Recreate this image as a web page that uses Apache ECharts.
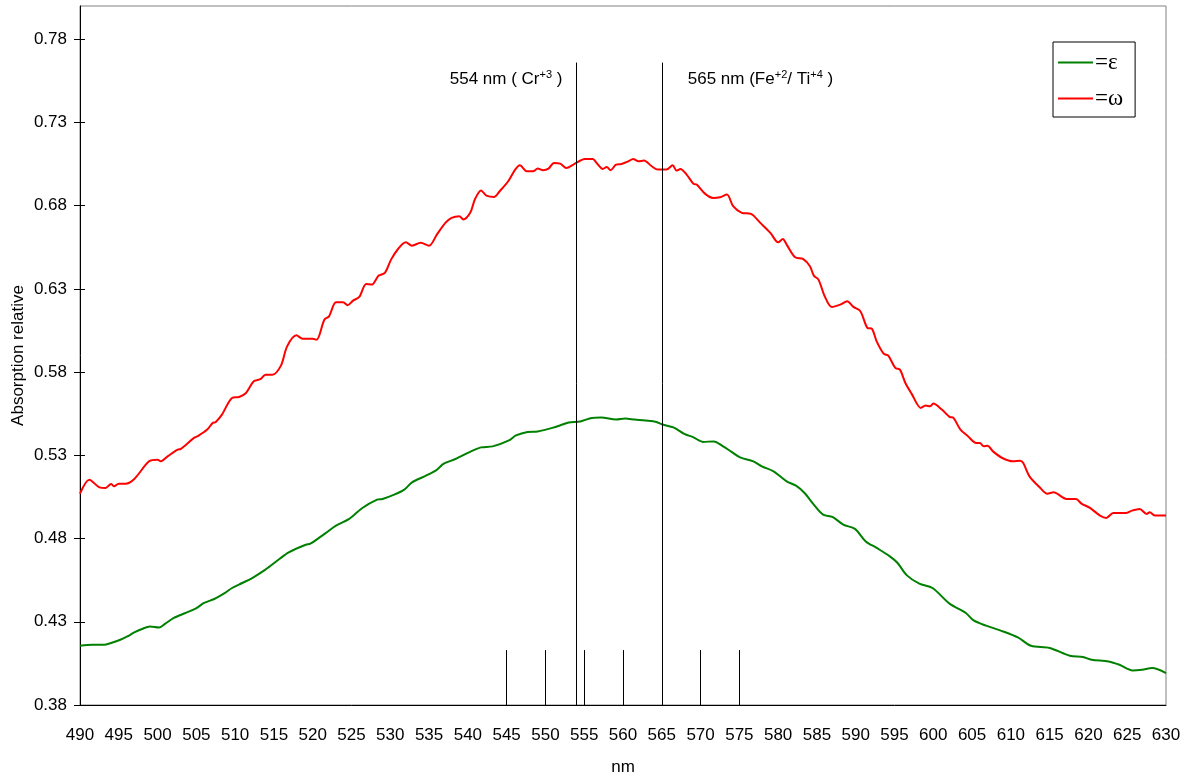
<!DOCTYPE html>
<html>
<head>
<meta charset="utf-8">
<script src="https://cdn.jsdelivr.net/npm/echarts@6/dist/echarts.min.js"></script>
<style>
  html, body { margin: 0; padding: 0; background: #fff; }
  #chart { width: 1192px; height: 780px; }
</style>
</head>
<body>
<div id="chart"></div>
<script>
// Tick labels
const xTicks = [490, 495, 500, 505, 510, 515, 520, 525, 530, 535, 540, 545, 550, 555, 560,
  565, 570, 575, 580, 585, 590, 595, 600, 605, 610, 615, 620, 625, 630];
const yTicks = [0.38, 0.43, 0.48, 0.53, 0.58, 0.63, 0.68, 0.73, 0.78];

// ε spectrum (green): wavelength (nm) and relative absorption
const epsNm = [490, 491.6, 493.1, 494.0, 495.2, 496.1, 497.0, 498.0, 499.0, 500.2, 501.0, 502.1,
  503.6, 504.9, 506.0, 507.3, 508.8, 509.6, 510.9, 512.2, 513.9, 515.7, 516.9, 519.1, 519.7,
  520.8, 521.7, 523.0, 524.7, 526.4, 528.3, 529.0, 530.5, 531.8, 532.8, 534.6, 535.9, 536.9,
  538.4, 540.4, 541.7, 543.2, 545.3, 546.2, 547.7, 549.0, 550.9, 552.2, 553.0, 554.5, 556.0,
  557.2, 559.1, 560.3, 561.5, 562.9, 564.3, 565.1, 566.5, 567.9, 569.1, 570.3, 571.7, 572.9,
  573.9, 575.1, 576.8, 577.9, 579.4, 581.1, 582.3, 583.4, 584.6, 585.8, 587.0, 588.4, 589.9,
  591.3, 592.7, 594.4, 595.4, 596.6, 598.2, 599.9, 602.1, 604.2, 605.2, 606.8, 608.7, 610.9,
  612.6, 615.0, 617.6, 619.3, 620.4, 622.6, 624.0, 625.7, 626.9, 628.2, 630];
const epsAbs = [0.4156, 0.4162, 0.4162, 0.4173, 0.4192, 0.4212, 0.4236, 0.4257, 0.4272, 0.4266,
  0.4289, 0.4323, 0.4353, 0.4379, 0.4413, 0.4437, 0.4477, 0.4503, 0.4533, 0.4563, 0.4613,
  0.4677, 0.4717, 0.4763, 0.4769, 0.4804, 0.4834, 0.4878, 0.4918, 0.4984, 0.5034, 0.5038,
  0.5064, 0.5094, 0.5138, 0.5178, 0.5210, 0.5250, 0.5278, 0.5324, 0.5348, 0.5354, 0.5390,
  0.5420, 0.5441, 0.5444, 0.5465, 0.5485, 0.5498, 0.5504, 0.5525, 0.5528, 0.5515, 0.5521,
  0.5515, 0.5509, 0.5501, 0.5485, 0.5468, 0.5429, 0.5408, 0.5381, 0.5384, 0.5354, 0.5324,
  0.5288, 0.5264, 0.5234, 0.5204, 0.5144, 0.5118, 0.5074, 0.5004, 0.4944, 0.4930, 0.4884,
  0.4858, 0.4783, 0.4744, 0.4693, 0.4653, 0.4579, 0.4529, 0.4503, 0.4409, 0.4353, 0.4308,
  0.4277, 0.4247, 0.4206, 0.4156, 0.4143, 0.4096, 0.4088, 0.4072, 0.4062, 0.4042, 0.4008,
  0.4012, 0.4022, 0.3992];

// ω spectrum (red): wavelength (nm) and relative absorption
const omeNm = [490, 491.2, 492.5, 493.3, 494.0, 494.4, 495.0, 495.9, 497.0, 498.9, 500.0, 500.4,
  501.3, 502.6, 503.0, 504.7, 505.3, 506.4, 507.1, 507.5, 508.3, 509.6, 510.5, 511.4, 512.4,
  513.3, 513.9, 514.8, 515.9, 516.7, 517.9, 518.7, 520.0, 520.5, 521.5, 522.1, 523.0, 523.9,
  524.5, 525.2, 526.0, 526.9, 527.6, 528.5, 529.3, 530.1, 531.0, 532.0, 532.8, 533.9, 535.0,
  536.0, 537.1, 537.9, 538.9, 539.4, 540.3, 540.9, 541.7, 542.4, 543.4, 544.1, 545.2, 546.1,
  546.7, 547.6, 548.4, 549.0, 549.7, 550.4, 551.1, 551.9, 552.7, 553.6, 555.1, 556.1, 556.6,
  557.4, 557.9, 558.4, 559.1, 559.8, 560.7, 561.3, 562.0, 562.7, 563.7, 564.5, 565.6, 566.4,
  566.9, 567.4, 568.2, 569.1, 569.5, 570.6, 571.6, 572.5, 573.4, 574.2, 575.3, 576.5, 577.7,
  579.0, 580.0, 580.6, 581.1, 582.2, 583.2, 584.1, 584.6, 585.2, 586.0, 586.9, 588.0, 588.9,
  589.7, 590.6, 591.5, 592.1, 592.7, 593.6, 594.2, 595.1, 595.7, 596.4, 597.2, 598.4, 599.0,
  599.6, 600.0, 601.1, 602.1, 602.6, 603.5, 604.5, 605.5, 606.0, 606.5, 607.0, 607.7, 608.9,
  610.3, 611.2, 611.6, 612.4, 613.8, 614.7, 615.5, 617.2, 618.4, 619.1, 620.2, 621.5, 622.3,
  623.2, 624.9, 625.6, 626.6, 627.5, 627.9, 628.6, 630];
const omeAbs = [0.5070, 0.5154, 0.5108, 0.5104, 0.5128, 0.5114, 0.5130, 0.5130, 0.5158, 0.5264,
  0.5274, 0.5264, 0.5294, 0.5334, 0.5339, 0.5405, 0.5419, 0.5455, 0.5495, 0.5501, 0.5545,
  0.5645, 0.5651, 0.5675, 0.5745, 0.5759, 0.5785, 0.5785, 0.5839, 0.5955, 0.6021, 0.6001,
  0.6001, 0.5995, 0.6115, 0.6135, 0.6220, 0.6220, 0.6202, 0.6230, 0.6252, 0.6330, 0.6326,
  0.6380, 0.6396, 0.6476, 0.6540, 0.6580, 0.6560, 0.6577, 0.6560, 0.6626, 0.6697, 0.6727,
  0.6737, 0.6717, 0.6757, 0.6837, 0.6891, 0.6861, 0.6853, 0.6887, 0.6947, 0.7017, 0.7043,
  0.7007, 0.7007, 0.7023, 0.7013, 0.7023, 0.7057, 0.7053, 0.7027, 0.7047, 0.7081, 0.7081,
  0.7057, 0.7021, 0.7033, 0.7013, 0.7047, 0.7051, 0.7067, 0.7081, 0.7067, 0.7071, 0.7037,
  0.7017, 0.7017, 0.7043, 0.7011, 0.7021, 0.6987, 0.6931, 0.6927, 0.6871, 0.6847, 0.6851,
  0.6867, 0.6797, 0.6757, 0.6751, 0.6697, 0.6637, 0.6580, 0.6600, 0.6566, 0.6490, 0.6480,
  0.6436, 0.6380, 0.6356, 0.6256, 0.6192, 0.6206, 0.6226, 0.6192, 0.6166, 0.6066, 0.6060,
  0.5985, 0.5911, 0.5899, 0.5825, 0.5815, 0.5735, 0.5671, 0.5585, 0.5599, 0.5595, 0.5611,
  0.5575, 0.5531, 0.5525, 0.5455, 0.5414, 0.5375, 0.5375, 0.5354, 0.5358, 0.5324, 0.5284,
  0.5264, 0.5268, 0.5254, 0.5174, 0.5104, 0.5070, 0.5078, 0.5038, 0.5038, 0.5010, 0.4984,
  0.4938, 0.4924, 0.4954, 0.4954, 0.4968, 0.4978, 0.4948, 0.4958, 0.4938, 0.4938];

// Absorption bands marked with reference lines
const bandNm = [554, 565];
// Short wavelength marks along the bottom of the plot
const markNm = [545, 550, 555, 560, 565, 570, 575];

const Y_MIN = 0.38, Y_MAX = 0.80;
const BAND_TOP = 0.766;   // upper end of the band lines
const BAND_TEXT = 0.756;  // height of the band captions
const MARK_TOP = 0.413;   // upper end of the short marks

const FONT = 'Liberation Sans, Arial, sans-serif';
const pairs = (xs, ys) => xs.map((x, i) => [x, ys[i]]);

const chart = echarts.init(document.getElementById('chart'), null, { renderer: 'canvas' });

const segment = (x, top) => [
  { coord: [x, Y_MIN] },
  { coord: [x, top] }
];

const sup = { fontSize: 11, fontFamily: FONT, color: '#000', verticalAlign: 'top', lineHeight: 20 };
const norm = { fontSize: 17, fontFamily: FONT, color: '#000', lineHeight: 20 };

chart.setOption({
  animation: false,
  backgroundColor: '#fff',
  grid: {
    left: 80, right: 26, top: 6, bottom: 75,
    outerBoundsMode: 'none',
    containLabel: false,
    show: true, borderColor: '#808080', borderWidth: 1, backgroundColor: '#fff'
  },
  legend: {
    orient: 'vertical',
    left: 1053, top: 42,
    padding: [9, 12, 7, 5],
    itemGap: 13,
    itemWidth: 35, itemHeight: 2,
    icon: 'rect',
    borderColor: '#000', borderWidth: 1,
    backgroundColor: '#fff',
    formatter: name => '=' + name,
    textStyle: { fontFamily: 'Liberation Serif, DejaVu Serif, serif', fontSize: 23, color: '#000', lineHeight: 18, padding: [0, 0, 0, -3] },
    data: ['ε', 'ω']
  },
  xAxis: {
    type: 'value', min: 490, max: 630, interval: 5,
    name: 'nm', nameLocation: 'middle', nameGap: 54, nameMoveOverlap: false,
    nameTextStyle: { fontFamily: FONT, fontSize: 17, color: '#000' },
    axisLine: { show: true, onZero: false, lineStyle: { color: '#000', width: 1 } },
    axisTick: { show: false },
    splitLine: { show: false },
    axisLabel: {
      customValues: xTicks,
      margin: 22, fontFamily: FONT, fontSize: 17, color: '#000'
    }
  },
  yAxis: [{
    type: 'value', min: Y_MIN, max: Y_MAX, interval: 0.05,
    name: 'Absorption relative', nameLocation: 'middle', nameGap: 53, nameMoveOverlap: false,
    nameTextStyle: { fontFamily: FONT, fontSize: 17, color: '#000' },
    axisLine: { show: true, lineStyle: { color: '#000', width: 1 } },
    axisTick: { show: true, customValues: yTicks, length: 6, lineStyle: { color: '#000' } },
    splitLine: { show: false },
    axisLabel: {
      customValues: yTicks,
      margin: 13, fontFamily: FONT, fontSize: 17, color: '#000',
      formatter: v => v.toFixed(2)
    }
  }, {
    type: 'value', min: Y_MIN, max: Y_MAX, interval: 0.05, position: 'left',
    axisLine: { show: false },
    axisTick: { show: true, inside: true, customValues: yTicks, length: 5, lineStyle: { color: '#000' } },
    axisLabel: { show: false },
    splitLine: { show: false }
  }],
  series: [{
    name: 'ε',
    type: 'line',
    data: pairs(epsNm, epsAbs),
    showSymbol: false,
    smooth: 0.3,
    color: '#008000',
    itemStyle: { color: '#008000' },
    lineStyle: { color: '#008000', width: 2 },
    markLine: {
      silent: true,
      symbol: ['none', 'none'],
      label: { show: false },
      lineStyle: { color: '#000', width: 1, type: 'solid' },
      data: bandNm.map(x => segment(x, BAND_TOP)).concat(markNm.map(x => segment(x, MARK_TOP)))
    },
    markPoint: {
      silent: true,
      symbol: 'circle', symbolSize: 0,
      data: [{
        coord: [bandNm[0], BAND_TEXT],
        label: {
          show: true, position: 'left', distance: 14,
          formatter: bandNm[0] + ' nm ( Cr{sup|+3} )',
          rich: { sup: sup }, ...norm
        }
      }, {
        coord: [bandNm[1], BAND_TEXT],
        label: {
          show: true, position: 'right', distance: 26,
          formatter: bandNm[1] + ' nm (Fe{sup|+2}/ Ti{sup|+4} )',
          rich: { sup: sup }, ...norm
        }
      }]
    }
  }, {
    name: 'ω',
    type: 'line',
    data: pairs(omeNm, omeAbs),
    showSymbol: false,
    smooth: 0.3,
    color: '#ff0000',
    itemStyle: { color: '#ff0000' },
    lineStyle: { color: '#ff0000', width: 2 }
  }]
});
</script>
</body>
</html>
